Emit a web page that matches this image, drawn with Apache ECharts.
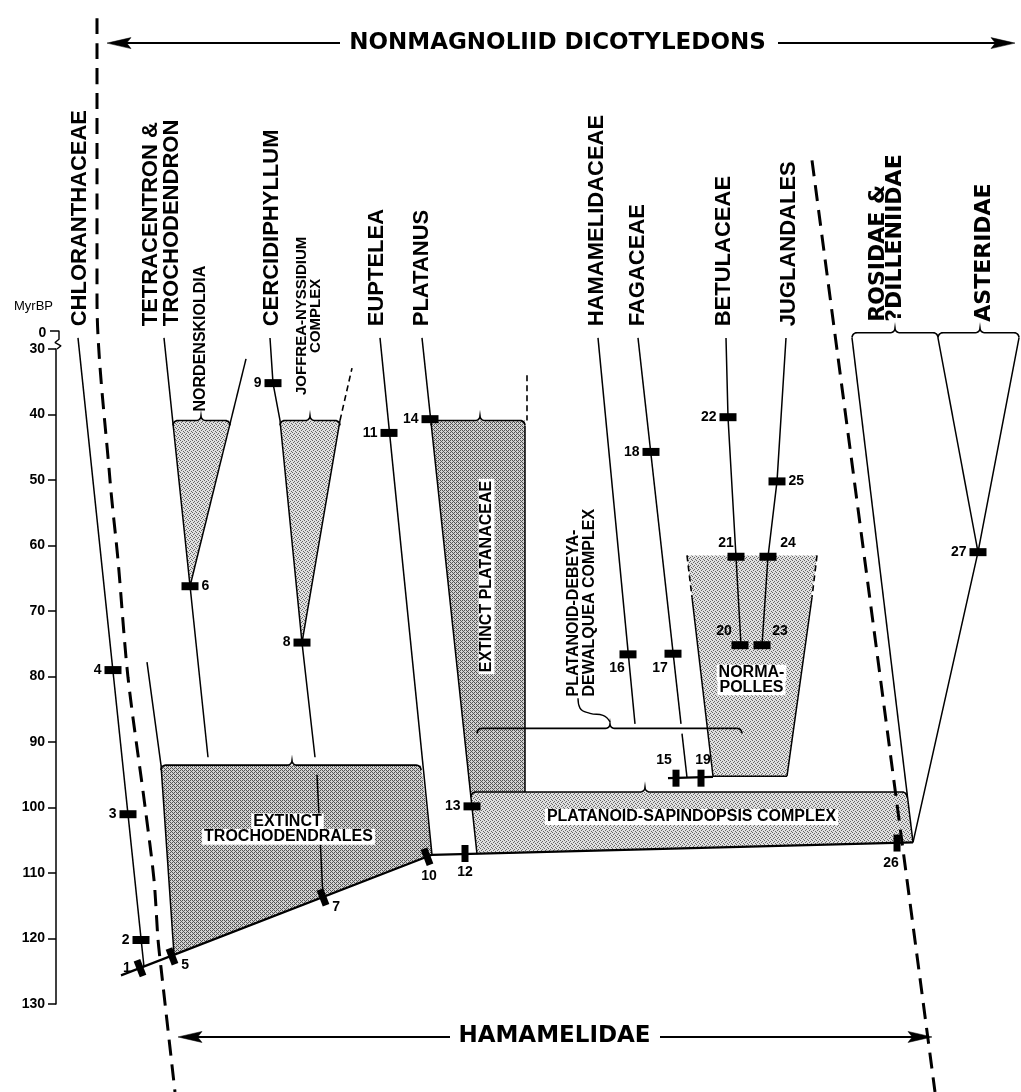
<!DOCTYPE html>
<html>
<head>
<meta charset="utf-8">
<title>Nonmagnoliid dicotyledons – Hamamelidae</title>
<script src="https://cdn.jsdelivr.net/npm/echarts@6.0.0/dist/echarts.min.js"></script>
<style>
html,body{margin:0;padding:0;background:#fff;}
#chart{width:1021px;height:1092px;}
</style>
</head>
<body>
<div id="chart"></div>
<script>
// ======================= DATA =======================
// Time axis, million years before present
const AGE_TICK_MIN = 30;
const AGE_TICK_MAX = 130;
const AGE_TICK_STEP = 10;
const AXIS_TITLE = 'MyrBP';
const AXIS_TOP_LABEL = '0';

// Column taxa (labels read bottom-to-top) and their column positions
const TAXA = ['CHLORANTHACEAE', 'TETRACENTRON &\nTROCHODENDRON', 'CERCIDIPHYLLUM', 'EUPTELEA', 'PLATANUS',
              'HAMAMELIDACEAE', 'FAGACEAE', 'BETULACEAE', 'JUGLANDALES'];
const TAXA_COL = [80, 162, 272, 377, 422, 597, 638, 724, 789];
const TAXA_AGE = 26.6;
const MAJOR_TAXA = ['ROSIDAE &\n?DILLENIIDAE', 'ASTERIDAE'];
const MAJOR_COL = [887, 985];
const MAJOR_AGE = 25.9;

// Group headers with their spans
const GROUPS = ['NONMAGNOLIID DICOTYLEDONS', 'HAMAMELIDAE'];
const GROUP_COL = [558, 555];
const GROUP_AGE = [-16.7, 135.0];
const GROUP_SPAN = [[107, 1015], [178, 932]];
const GROUP_GAP = [[340, 778], [450, 660]];

// Lineages: [column position, age MyrBP]
const CHLORANTHACEAE = [[78, 28.3], [144, 124.3]];
const TETRACENTRON = [[164, 28.3], [208, 92.3]];
const NORDENSKIOLDIA = [[246, 31.5], [190, 66.2]];
const CERCIDIPHYLLUM = [[270, 28.3], [273, 35.2], [280, 40.9], [302, 74.8], [315, 92.3]];
const CERCIDIPHYLLUM_BASE = [[317, 95.0], [323, 113.7]];
const JOFFREA = [[302, 74.8], [340, 40.9]];
const JOFFREA_UNCERTAIN = [[340, 40.9], [352, 32.9]];
const EUPTELEA = [[380, 28.3], [432, 107.2]];
const PLATANUS = [[422, 28.3], [477, 107.1]];
const PLATANACEAE_EDGE = [[525, 41.7], [525, 97.6]];
const PLATANACEAE_UNCERTAIN = [[527, 34.0], [527, 40.9]];
const HAMAMELIDACEAE = [[598, 28.3], [635, 87.2]];
const FAGACEAE = [[638, 28.3], [681, 87.2]];
const FAGACEAE_BASE = [[682, 88.7], [687, 95.4]];
const BETULACEAE = [[726, 28.3], [728, 40.4], [736, 61.7], [741, 75.2]];
const JUGLANDALES = [[786, 28.3], [777, 50.2], [768, 61.7], [762, 75.2]];
const ROSIDAE = [[852, 28.3], [913, 105.3]];
const ASTERIDAE_A = [[938, 28.3], [978, 61.0]];
const ASTERIDAE_B = [[1019, 28.3], [978, 61.0], [913, 105.3]];
const TROCH_STEM = [[147, 77.8], [161, 93.5], [174, 122.4]];
const BASE_TROCH = [[121, 125.6], [432, 107.2]];
const BASE_PLAT = [[432, 107.2], [913, 105.3]];
const NORMA_LEFT_UNCERTAIN = [[687, 61.5], [692, 67.9]];
const NORMA_LEFT = [[692, 67.9], [713, 95.2]];
const NORMA_RIGHT_UNCERTAIN = [[817, 61.5], [812, 67.9]];
const NORMA_RIGHT = [[812, 67.9], [787, 95.2]];
const NORMA_BASE = [[713, 95.2], [787, 95.2]];
const FAGACEAE_LINK = [[668, 95.5], [713, 95.3]];
const PDD_TIE = [[610, 86.9], [603, 85.9], [590, 85.6], [580, 84.8], [578, 83.3]];
const AXIS_BREAK = [[50, 27.25], [59, 27.25], [59, 28.5], [55, 29.0], [61, 29.5], [57, 30.0]];

// Group boundaries (dashed)
const LEFT_BOUNDARY = [[97, -20.5], [97, 22.5], [110, 50], [118, 62.2], [128, 80.1], [145, 99.8], [154, 111], [158, 120.1], [161, 124.4], [175, 143.4]];
const RIGHT_BOUNDARY = [[812, 1.2], [935, 143.4]];

// Shaded complexes (polygons)
const REGION_NAMES = ['nordenskioldia', 'joffrea', 'trochodendrales', 'platanaceae', 'platanoidSapindopsis', 'normapolles'];
const REGION_NORDENSKIOLDIA = [[173, 40.9], [230, 40.9], [190, 66.2]];
const REGION_JOFFREA = [[280, 40.9], [340, 40.9], [302, 74.8]];
const REGION_TROCHODENDRALES = [[161, 93.5], [421, 93.5], [432, 107.2], [174, 122.4]];
const REGION_PLATANACEAE = [[431, 40.9], [525, 40.9], [525, 97.6], [470, 97.6]];
const REGION_PLATANOID_SAPINDOPSIS = [[470, 97.6], [907, 97.6], [913, 105.3], [477, 107.1]];
const REGION_NORMAPOLLES = [[687, 61.5], [817, 61.5], [787, 95.2], [713, 95.2]];

// Braces: [left, right, tip, age]
const BRACES = [
  [173, 230, 201, 40.9],
  [280, 340, 310, 40.9],
  [431, 525, 480, 40.9],
  [161, 421, 292, 93.5],
  [477, 742, 610, 87.9],
  [471, 907, 645, 97.6],
  [852, 938, 895, 27.5],
  [938, 1019, 980, 27.5]
];

// Region and note labels
const REGION_TEXT = ['EXTINCT', 'TROCHODENDRALES', 'PLATANOID-SAPINDOPSIS COMPLEX', 'NORMA-', 'POLLES'];
const REGION_TEXT_AT = [[288, 102.2], [289, 104.5], [692, 101.5], [752, 79.5], [752, 81.7]];
const VERTICAL_NOTES = ['EXTINCT PLATANACEAE', 'NORDENSKIOLDIA', 'JOFFREA-NYSSIDIUM\nCOMPLEX', 'PLATANOID-DEBEYA-\nDEWALQUEA COMPLEX'];
const VERTICAL_NOTES_AT = [[487, 64.8], [201, 39.6], [309, 25.0], [582, 83.1]];

// Character-state markers
const MARKER_NO = [1,2,3,4,5,6,7,8,9,10,11,12,13,14,15,16,17,18,19,20,21,22,23,24,25,26,27];
const MARKER_COL = [140,141,128,113,172,190,323,302,273,427,389,465,472,430,676,628,673,651,701,740,736,728,762,768,777,897,978];
const MARKER_AGE = [124.5,120.2,101.0,79.0,122.7,66.2,113.7,74.8,35.2,107.5,42.8,107.0,99.8,40.7,95.5,76.6,76.5,45.7,95.5,75.2,61.7,40.4,75.2,61.7,50.2,105.4,61.0];

// ======================= STYLE =======================
const INK = '#000000';
const FONT = '"Liberation Sans", Arial, sans-serif';
const HEAVY = '"DejaVu Sans", "Liberation Sans", sans-serif';
const MARKER_KIND = {1:'t',5:'t',7:'t',10:'t',12:'v',15:'v',19:'v',26:'v'};
const MARKER_SHAPE = {h:{size:[17,8],rot:0}, v:{size:[7,17],rot:0}, t:{size:[7,17],rot:21}};
const MARKER_LABEL = {
  1:['left',[0,0]],2:['left',[0,0]],3:['left',[0,0]],4:['left',[0,0]],5:['right',[0,9]],6:['right',[0,0]],
  7:['right',[0,10]],8:['left',[0,0]],9:['left',[0,0]],10:['bottom',[2,0]],11:['left',[0,0]],12:['bottom',[0,0]],
  13:['left',[0,0]],14:['left',[0,0]],15:['top',[-12,0]],16:['bottom',[-11,0]],17:['bottom',[-13,0]],18:['left',[0,0]],
  19:['top',[2,0]],20:['top',[-16,0]],21:['top',[-10,0]],22:['left',[0,0]],23:['top',[18,0]],24:['top',[20,0]],
  25:['right',[0,0]],26:['bottom',[-6,2]],27:['left',[0,0]]
};

function stipple(bg, ink, cells) {
  const c = document.createElement('canvas');
  c.width = 4; c.height = 4;
  const g = c.getContext('2d');
  g.fillStyle = bg; g.fillRect(0, 0, 4, 4);
  g.fillStyle = ink;
  cells.forEach(p => g.fillRect(p[0], p[1], 1, 1));
  return {image: c, repeat: 'repeat'};
}
const DOTS = stipple('#e0e0e0', '#666666', [[0,0],[2,1],[1,2],[3,3]]);
const HATCH = stipple('#d2d2d2', '#555555', [[0,0],[1,1],[2,2],[3,3],[2,0],[0,2]]);
const REGION_FILL = {
  nordenskioldia: DOTS, joffrea: DOTS, trochodendrales: HATCH,
  platanaceae: HATCH, platanoidSapindopsis: DOTS, normapolles: DOTS
};
const REGIONS = {
  nordenskioldia: REGION_NORDENSKIOLDIA, joffrea: REGION_JOFFREA, trochodendrales: REGION_TROCHODENDRALES,
  platanaceae: REGION_PLATANACEAE, platanoidSapindopsis: REGION_PLATANOID_SAPINDOPSIS, normapolles: REGION_NORMAPOLLES
};

// ======================= CHART =======================
const chart = echarts.init(document.getElementById('chart'), null, {renderer: 'canvas'});

function line(data, extra) {
  return Object.assign({
    type: 'line', xAxisIndex: 0, yAxisIndex: 0, data: data, symbol: 'none', silent: true,
    animation: false, clip: false, z: 3, lineStyle: {color: INK, width: 1.5, opacity: 1}
  }, extra || {});
}
const solid = (w) => ({lineStyle: {color: INK, width: w, opacity: 1}});
const dashed = (w, d) => ({lineStyle: {color: INK, width: w, type: d, opacity: 1}});

function arc(out, cx, cy, r, a0, a1) {
  for (let k = 0; k <= 6; k++) {
    const a = (a0 + (a1 - a0) * k / 6) * Math.PI / 180;
    out.push([cx + r * Math.cos(a), cy + r * Math.sin(a)]);
  }
}

function textItem(text, pos) { return {name: text, value: pos}; }
function textSeries(items, label, z) {
  return {
    type: 'scatter', xAxisIndex: 0, yAxisIndex: 0, silent: true, animation: false, z: z || 8,
    symbol: 'circle', symbolSize: 1, itemStyle: {color: 'rgba(255,255,255,0)', opacity: 1},
    data: items,
    label: Object.assign({show: true, formatter: '{b}', position: [0, 0], color: INK, opacity: 1,
      fontFamily: FONT, fontWeight: 'bold', textBorderWidth: 0}, label)
  };
}

const series = [];

// shaded regions
series.push({
  type: 'custom', xAxisIndex: 0, yAxisIndex: 0, silent: true, animation: false, z: 1,
  data: REGION_NAMES.map(n => REGIONS[n][0]),
  renderItem: function (params, api) {
    const n = REGION_NAMES[params.dataIndex];
    const pts = REGIONS[n].map(p => api.coord(p));
    return {type: 'polygon', shape: {points: pts}, style: {fill: REGION_FILL[n], stroke: null}};
  }
});

// lineage lines
[CHLORANTHACEAE, TETRACENTRON, NORDENSKIOLDIA, CERCIDIPHYLLUM, CERCIDIPHYLLUM_BASE, JOFFREA, EUPTELEA, PLATANUS,
 PLATANACEAE_EDGE, HAMAMELIDACEAE, FAGACEAE, FAGACEAE_BASE, BETULACEAE, JUGLANDALES, ROSIDAE, ASTERIDAE_A,
 ASTERIDAE_B, TROCH_STEM, NORMA_LEFT, NORMA_RIGHT, NORMA_BASE].forEach(d => series.push(line(d, solid(1.5))));
[BASE_TROCH, BASE_PLAT, FAGACEAE_LINK].forEach(d => series.push(line(d, solid(2.2))));
[JOFFREA_UNCERTAIN, PLATANACEAE_UNCERTAIN, NORMA_LEFT_UNCERTAIN, NORMA_RIGHT_UNCERTAIN]
  .forEach(d => series.push(line(d, dashed(1.6, [6, 4]))));
series.push(line(PDD_TIE, Object.assign({smooth: true}, solid(1.4))));
series.push(line(LEFT_BOUNDARY, Object.assign({smooth: 0.3}, dashed(3, [16, 9]))));
series.push(line(RIGHT_BOUNDARY, dashed(3, [16, 9])));
series.push(line(AXIS_BREAK, solid(1.4)));

// group arrows (shafts)
GROUPS.forEach((g, i) => {
  const y = GROUP_AGE[i];
  series.push(line([[GROUP_SPAN[i][0] + 12, y], [GROUP_GAP[i][0], y]], solid(2)));
  series.push(line([[GROUP_GAP[i][1], y], [GROUP_SPAN[i][1] - 12, y]], solid(2)));
});
// arrow heads
series.push({
  type: 'custom', xAxisIndex: 0, yAxisIndex: 0, silent: true, animation: false, z: 4,
  data: GROUPS.flatMap((g, i) => [[GROUP_SPAN[i][0], GROUP_AGE[i], -1], [GROUP_SPAN[i][1], GROUP_AGE[i], 1]]),
  renderItem: function (params, api) {
    const p = api.coord([api.value(0), api.value(1)]);
    const d = api.value(2), L = 24, W = 5.5;
    return {type: 'polygon', shape: {points: [
      [p[0], p[1]], [p[0] - d * L, p[1] - W], [p[0] - d * L * 0.82, p[1]], [p[0] - d * L, p[1] + W]
    ]}, style: {fill: INK, stroke: INK, lineWidth: 0.5}};
  }
});

// braces
series.push({
  type: 'custom', xAxisIndex: 0, yAxisIndex: 0, silent: true, animation: false, z: 4,
  data: BRACES.map(b => [b[2], b[3]]),
  renderItem: function (params, api) {
    const b = BRACES[params.dataIndex];
    const a = api.coord([b[0], b[3]]), z = api.coord([b[1], b[3]]), c = api.coord([b[2], b[3]]);
    const y = a[1], r = 5, t = 4.5, pts = [];
    arc(pts, a[0] + r, y + r, r, 180, 270);
    arc(pts, c[0] - t, y - t, t, 90, 0);
    arc(pts, c[0] + t, y - t, t, 180, 90);
    arc(pts, z[0] - r, y + r, r, 270, 360);
    return {type: 'polyline', shape: {points: pts}, style: {stroke: INK, lineWidth: 1.6, fill: null}};
  }
});

// markers
series.push({
  type: 'scatter', xAxisIndex: 0, yAxisIndex: 0, silent: true, animation: false, z: 6,
  symbol: 'rect',
  data: MARKER_NO.map((n, i) => {
    const s = MARKER_SHAPE[MARKER_KIND[n] || 'h'];
    const lp = MARKER_LABEL[n];
    return {name: String(n), value: [MARKER_COL[i], MARKER_AGE[i]], symbolSize: s.size, symbolRotate: s.rot,
            label: {position: lp[0], offset: lp[1]}};
  }),
  itemStyle: {color: '#000', opacity: 1},
  label: {show: true, formatter: '{b}', distance: 3, color: INK, opacity: 1, fontFamily: FONT, fontWeight: 'bold', fontSize: 14}
});

// taxa labels
series.push(textSeries(TAXA.map((t, i) => textItem(t, [TAXA_COL[i], TAXA_AGE])),
  {rotate: 90, align: 'left', verticalAlign: 'middle', fontSize: 22, lineHeight: 21}));
series.push(textSeries(MAJOR_TAXA.map((t, i) => textItem(t, [MAJOR_COL[i], MAJOR_AGE])),
  {rotate: 90, align: 'left', verticalAlign: 'middle', fontSize: 22, lineHeight: 17, fontFamily: HEAVY}));
// group titles
series.push(textSeries(GROUPS.map((t, i) => textItem(t, [GROUP_COL[i], GROUP_AGE[i]])),
  {align: 'center', verticalAlign: 'middle', fontSize: 23, fontFamily: HEAVY}));
// region labels (white boxes)
series.push(textSeries(REGION_TEXT.map((t, i) => textItem(t, REGION_TEXT_AT[i])),
  {align: 'center', verticalAlign: 'middle', fontSize: 16, backgroundColor: '#fff', padding: [0, 2]}));
// vertical notes
series.push(textSeries([textItem(VERTICAL_NOTES[0], VERTICAL_NOTES_AT[0])],
  {rotate: 90, align: 'center', verticalAlign: 'middle', fontSize: 16, backgroundColor: '#fff', padding: [0, 2]}));
series.push(textSeries([textItem(VERTICAL_NOTES[1], VERTICAL_NOTES_AT[1])],
  {rotate: 90, align: 'left', verticalAlign: 'middle', fontSize: 16}));
series.push(textSeries([textItem(VERTICAL_NOTES[2], VERTICAL_NOTES_AT[2])],
  {rotate: 90, align: 'center', verticalAlign: 'middle', fontSize: 15, lineHeight: 14}));
series.push(textSeries([textItem(VERTICAL_NOTES[3], VERTICAL_NOTES_AT[3])],
  {rotate: 90, align: 'left', verticalAlign: 'middle', fontSize: 16, lineHeight: 16}));
// axis extras
series.push(textSeries([textItem(AXIS_TITLE, [34, 23.6])],
  {align: 'center', verticalAlign: 'middle', fontSize: 13, fontWeight: 'normal'}));
series.push(textSeries([textItem(AXIS_TOP_LABEL, [43, 27.6])],
  {align: 'center', verticalAlign: 'middle', fontSize: 14}));

chart.setOption({
  backgroundColor: '#fff',
  animation: false,
  grid: [
    {left: 0, top: 0, width: 1021, height: 1092, containLabel: false},
    {left: 56, top: 349, width: 10, height: 655, containLabel: false}
  ],
  xAxis: [
    {type: 'value', gridIndex: 0, min: 0, max: 1021, show: false},
    {type: 'value', gridIndex: 1, min: 0, max: 1, show: false}
  ],
  yAxis: [
    {type: 'value', gridIndex: 0, min: -23.28, max: 143.4, inverse: true, show: false},
    {type: 'value', gridIndex: 1, min: AGE_TICK_MIN, max: AGE_TICK_MAX, interval: AGE_TICK_STEP, inverse: true,
     position: 'left',
     axisLine: {show: true, lineStyle: {color: INK, width: 1.5}},
     axisTick: {show: true, length: 8, inside: false, lineStyle: {color: INK, width: 1.5}},
     axisLabel: {show: true, margin: 11, color: INK, fontSize: 14, fontWeight: 'bold', fontFamily: FONT},
     splitLine: {show: false}}
  ],
  series: series
});
</script>
</body>
</html>
